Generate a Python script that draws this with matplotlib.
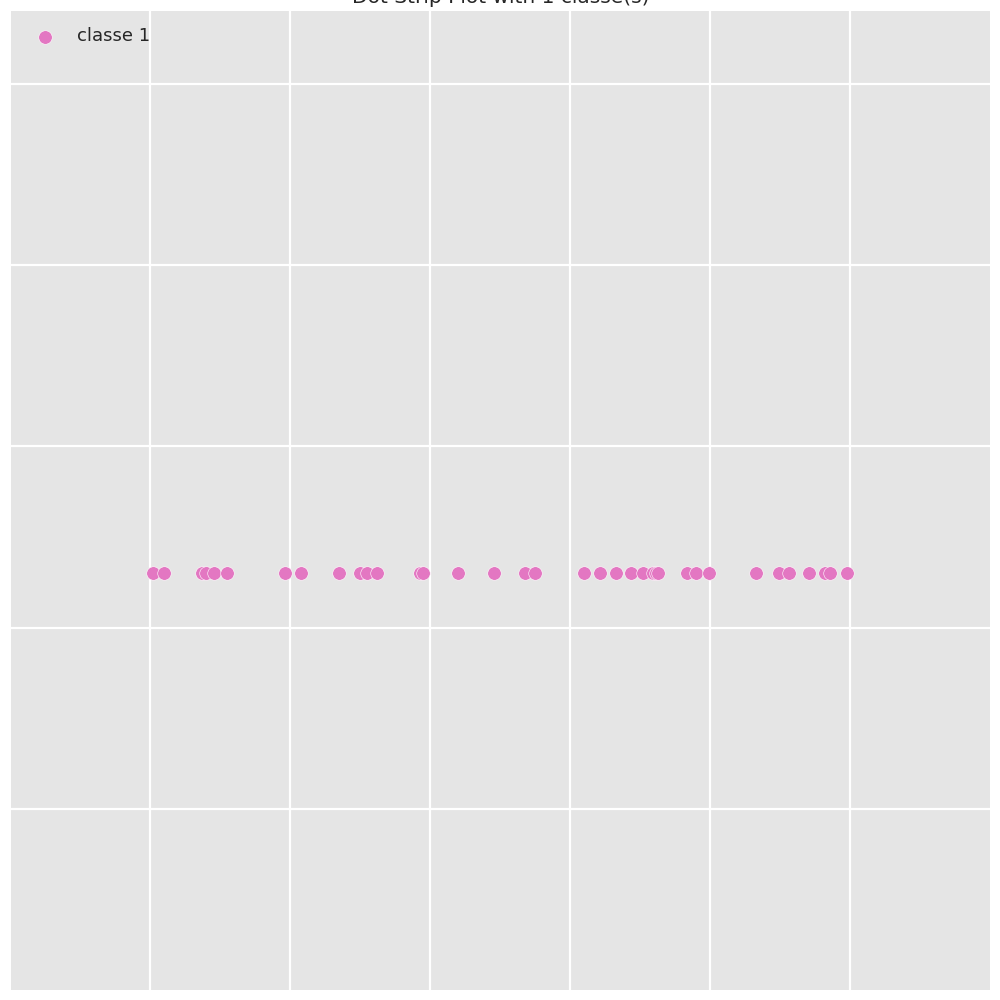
import matplotlib.pyplot as plt

# x positions of the dots
valeurs = [0.003, 0.020, 0.073, 0.080, 0.091, 0.110, 0.192, 0.215, 0.270,
           0.299, 0.310, 0.324, 0.386, 0.390, 0.439, 0.491, 0.536, 0.550,
           0.619, 0.643, 0.665, 0.687, 0.704, 0.719, 0.722, 0.725, 0.767,
           0.780, 0.798, 0.865, 0.898, 0.912, 0.942, 0.964, 0.972, 0.996]
classe_y = 1.3
nom_classe = 'classe 1'
titre = 'Dot Strip Plot with 1 classe(s)'
xticks = [0.0, 0.2, 0.4, 0.6, 0.8, 1.0]
yticks = [0, 1, 2, 3, 4]

fig = plt.figure(figsize=(10, 10), dpi=100)
ax = fig.add_axes([0.0105, 0.01, 0.9795, 0.979])
ax.set_facecolor('#E5E5E5')
for s in ax.spines.values():
    s.set_visible(False)

ax.scatter(valeurs, [classe_y] * len(valeurs), s=95, color='#e377c2',
           edgecolor='white', linewidth=0.4, label=nom_classe, zorder=3)

ax.set_xlim(-0.2, 1.2)
ax.set_ylim(-0.997, 4.4)
ax.set_xticks(xticks)
ax.set_yticks(yticks)
ax.tick_params(left=False, bottom=False, labelleft=False, labelbottom=False)
ax.grid(True, color='white', linewidth=1.6)
ax.set_axisbelow(True)

ax.set_title(titre, fontsize=14.5, color='#262626')
leg = ax.legend(loc='upper left', frameon=False, fontsize=13)
for t in leg.get_texts():
    t.set_color('#262626')

fig.savefig('out.png')
